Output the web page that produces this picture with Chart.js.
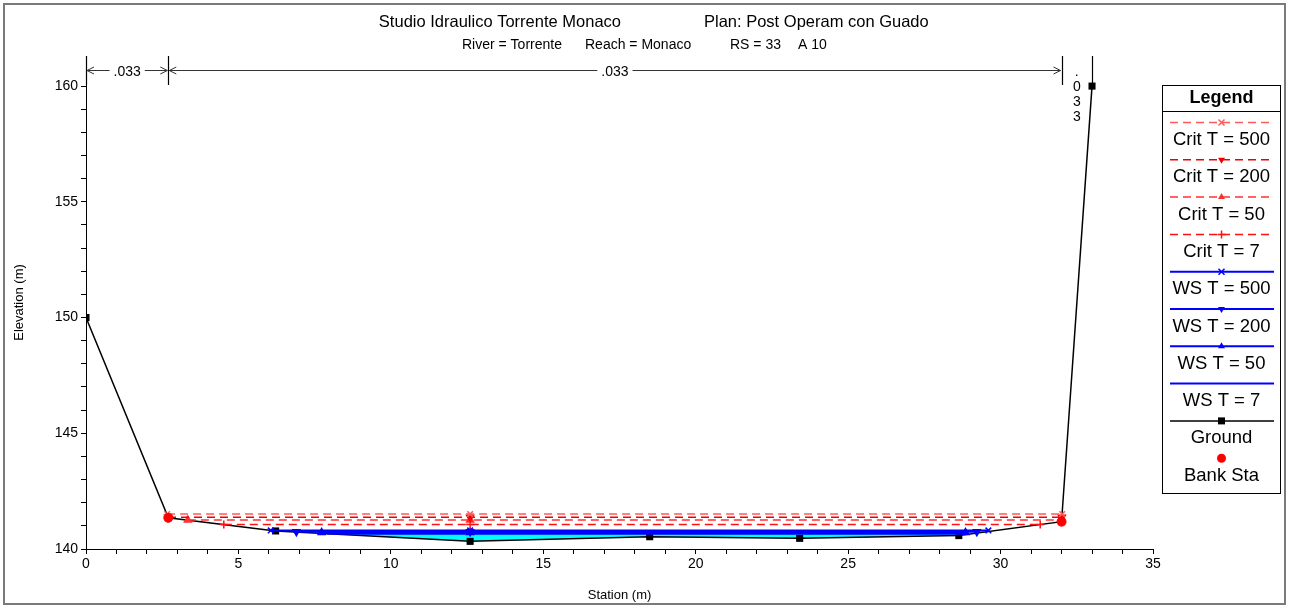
<!DOCTYPE html>
<html><head><meta charset="utf-8">
<script src="https://cdn.jsdelivr.net/npm/chart.js@4/dist/chart.umd.min.js"></script>
<style>html,body{margin:0;padding:0;background:#fff}#wrap{width:1289px;height:608px;position:relative}</style>
</head><body><div id="wrap"><canvas id="c" width="1289" height="608"></canvas></div>
<script>
// ---- text ----
const titleMain = 'Studio Idraulico Torrente Monaco';
const titlePlan = 'Plan: Post Operam con Guado';
const subtitleParts = ['River = Torrente', 'Reach = Monaco', 'RS = 33', 'A 10'];
const xAxisTitle = 'Station (m)';
const yAxisTitle = 'Elevation (m)';
const xTickLabels = [0, 5, 10, 15, 20, 25, 30, 35];
const yTickLabels = [140, 145, 150, 155, 160];

// ---- ground / banks ----
const groundStation = [0, 2.7, 6.22, 12.6, 18.49, 23.41, 28.63, 32.0, 33.0];
const groundElev    = [150, 141.35, 140.78, 140.33, 140.53, 140.46, 140.58, 141.18, 160];
const bankStation = [2.7, 32.0];
const bankElev    = [141.35, 141.18];

// ---- critical depth lines ----
const critNames = ['Crit  T = 500', 'Crit  T = 200', 'Crit  T = 50', 'Crit  T = 7'];
const critElev  = [141.51, 141.37, 141.25, 141.06];
const critLeft  = [2.66, 2.69, 3.34, 4.52];
const critRight = [32.02, 32.01, 32.0, 31.3];

// ---- water surface lines ----
const wsNames = ['WS  T = 500', 'WS  T = 200', 'WS  T = 50', 'WS  T = 7'];
const wsElev  = [140.80, 140.75, 140.71, 140.66];
const wsLeft  = [6.06, 6.9, 7.73, 7.9];
const wsRight = [29.6, 29.22, 28.85, 28.7];
const midStation = 12.6;

// ---- Manning n values ----
const nBreaks = [0, 2.7, 32.0, 33.0];
const nValues = ['.033', '.033', '.033'];

const FONT = "'Liberation Sans', Arial, Helvetica, sans-serif";
const critColors = ['#ff5a5a', '#ee0000', '#ff3030', '#ff1010'];
const markerStyles = [
  {style: 'crossRot', rot: 0}, {style: 'triangle', rot: 180},
  {style: 'triangle', rot: 0}, {style: 'cross', rot: 0}
];

function lineData(elev, left, right) {
  return [{x: left, y: elev}, {x: midStation, y: elev}, {x: right, y: elev}];
}

const datasets = [];
datasets.push({
  label: 'Bank Sta', legendKind: 'dot',
  data: bankStation.map((s, i) => ({x: s, y: bankElev[i]})),
  showLine: false, pointStyle: 'circle', pointRadius: 4.5,
  pointBackgroundColor: '#ff0000', pointBorderColor: '#ff0000', borderColor: '#ff0000'
});
critNames.forEach((n, i) => {
  datasets.push({
    label: n, legendKind: 'line', markerStyle: markerStyles[i].style,
    markerRot: markerStyles[i].rot,
    data: lineData(critElev[i], critLeft[i], critRight[i]),
    showLine: true, borderColor: critColors[i], borderWidth: 1.5, borderDash: [8, 5],
    pointStyle: markerStyles[i].style, pointRotation: markerStyles[i].rot,
    pointRadius: 4, pointBorderColor: critColors[i], pointBackgroundColor: critColors[i], pointBorderWidth: 1.5
  });
});
wsNames.forEach((n, i) => {
  const hasMarker = i < 3;
  datasets.push({
    label: n, legendKind: 'line', markerStyle: hasMarker ? markerStyles[i].style : null,
    markerRot: markerStyles[i].rot,
    data: lineData(wsElev[i], wsLeft[i], wsRight[i]),
    showLine: true, borderColor: '#0000ff', borderWidth: 2,
    pointStyle: markerStyles[i].style, pointRotation: markerStyles[i].rot,
    pointRadius: hasMarker ? 4 : 0, pointBorderColor: '#0000ff', pointBackgroundColor: '#0000ff', pointBorderWidth: 1.5
  });
});
datasets.push({
  label: 'Ground', legendKind: 'line', markerStyle: 'rect',
  data: groundStation.map((s, i) => ({x: s, y: groundElev[i]})),
  showLine: true, borderColor: '#000000', borderWidth: 1.5,
  pointStyle: 'rect', pointRadius: 5, pointBackgroundColor: '#000', pointBorderColor: '#000', pointBorderWidth: 0
});
// water area (lowest profile) polygon, from WS T=7 and ground
const wi = 3;
const waterPoly = [{x: wsLeft[wi], y: wsElev[wi]}, {x: wsRight[wi], y: wsElev[wi]}];
for (let k = groundStation.length - 1; k >= 0; k--) {
  if (groundStation[k] > wsLeft[wi] && groundStation[k] < wsRight[wi]) waterPoly.push({x: groundStation[k], y: groundElev[k]});
}
datasets.push({
  label: 'water', legendKind: 'none', data: waterPoly, showLine: true,
  borderColor: 'rgba(0,255,255,0)', borderWidth: 0, backgroundColor: '#00ffff',
  fill: 'shape', pointRadius: 0
});

function drawMarker(ctx, style, rot, x, y, r, color) {
  ctx.save();
  ctx.translate(x, y);
  ctx.rotate((rot || 0) * Math.PI / 180);
  ctx.fillStyle = color; ctx.strokeStyle = color; ctx.lineWidth = 1.5;
  ctx.beginPath();
  if (style === 'rect') { ctx.fillRect(-3.5, -3.5, 7, 7); }
  else if (style === 'circle') { ctx.arc(0, 0, r, 0, Math.PI * 2); ctx.fill(); }
  else if (style === 'crossRot') { const d = r * 0.75; ctx.moveTo(-d, -d); ctx.lineTo(d, d); ctx.moveTo(d, -d); ctx.lineTo(-d, d); ctx.stroke(); }
  else if (style === 'cross') { ctx.moveTo(0, -r); ctx.lineTo(0, r); ctx.moveTo(-r, 0); ctx.lineTo(r, 0); ctx.stroke(); }
  else if (style === 'triangle') {
    ctx.moveTo(0, -r); ctx.lineTo(r * 0.866, r * 0.5); ctx.lineTo(-r * 0.866, r * 0.5); ctx.closePath(); ctx.fill();
  }
  ctx.restore();
}

const decor = {
  id: 'decor',
  beforeDraw(chart) {
    const ctx = chart.ctx;
    ctx.save();
    ctx.fillStyle = '#fff'; ctx.fillRect(0, 0, chart.width, chart.height);
    ctx.strokeStyle = '#7a7a7a'; ctx.lineWidth = 2;
    ctx.strokeRect(4, 4, chart.width - 8, chart.height - 8);
    ctx.fillStyle = '#000'; ctx.textBaseline = 'middle';
    ctx.font = '16.5px ' + FONT;
    ctx.textAlign = 'right'; ctx.fillText(titleMain, 621, 22);
    ctx.textAlign = 'left'; ctx.fillText(titlePlan, 704, 22);
    ctx.font = '14px ' + FONT;
    const subX = [462, 585, 730, 798];
    subtitleParts.forEach((t, i) => ctx.fillText(t, subX[i], 45));
    ctx.restore();
  },
  afterDraw(chart) {
    const ctx = chart.ctx;
    const xs = chart.scales.x, area = chart.chartArea;
    ctx.save();
    const yLine = 70;
    ctx.font = '14px ' + FONT; ctx.textBaseline = 'middle'; ctx.textAlign = 'center';
    ctx.strokeStyle = '#000'; ctx.lineWidth = 1.2;
    nBreaks.forEach(b => {
      const px = Math.round(xs.getPixelForValue(b)) + 0.5;
      ctx.beginPath(); ctx.moveTo(px, area.top); ctx.lineTo(px, 85); ctx.stroke();
    });
    for (let i = 0; i < nValues.length; i++) {
      const x0 = xs.getPixelForValue(nBreaks[i]), x1 = xs.getPixelForValue(nBreaks[i + 1]);
      const mid = (x0 + x1) / 2;
      const w = ctx.measureText(nValues[i]).width;
      ctx.fillStyle = '#000';
      if (x1 - x0 > w + 30) {
        ctx.fillText(nValues[i], mid, yLine + 2);
        ctx.strokeStyle = '#333'; ctx.lineWidth = 1;
        ctx.beginPath();
        ctx.moveTo(x0 + 1, yLine + 0.5); ctx.lineTo(mid - w / 2 - 4, yLine + 0.5);
        ctx.moveTo(mid + w / 2 + 4, yLine + 0.5); ctx.lineTo(x1 - 1, yLine + 0.5);
        ctx.moveTo(x0 + 8, yLine - 3); ctx.lineTo(x0 + 1, yLine + 0.5); ctx.lineTo(x0 + 8, yLine + 4);
        ctx.moveTo(x1 - 8, yLine - 3); ctx.lineTo(x1 - 1, yLine + 0.5); ctx.lineTo(x1 - 8, yLine + 4);
        ctx.stroke();
      } else {
        const chars = nValues[i].split('');
        chars.forEach((c, k) => ctx.fillText(c, mid, 72 + k * 15));
      }
    }
    // legend
    const L = 1162, R = 1281, T = 85, B = 494, cx = (L + R) / 2;
    ctx.fillStyle = '#fff'; ctx.fillRect(L, T, R - L, B - T);
    ctx.strokeStyle = '#000'; ctx.lineWidth = 1;
    ctx.strokeRect(L + 0.5, T + 0.5, R - L - 1, B - T - 1);
    ctx.beginPath(); ctx.moveTo(L, 111.5); ctx.lineTo(R, 111.5); ctx.stroke();
    ctx.fillStyle = '#000'; ctx.textAlign = 'center'; ctx.textBaseline = 'middle';
    ctx.font = 'bold 18px ' + FONT; ctx.fillText('Legend', cx, 98);
    ctx.font = '18.5px ' + FONT;
    const entries = chart.data.datasets.filter(d => d.legendKind !== 'none');
    const order = entries.filter(d => d.legendKind === 'line').concat(entries.filter(d => d.legendKind === 'dot'));
    order.forEach((d, i) => {
      const ly = 122.5 + i * 37.3;
      if (d.legendKind === 'line') {
        ctx.save();
        ctx.strokeStyle = d.borderColor; ctx.lineWidth = d.borderWidth;
        ctx.setLineDash(d.borderDash || []);
        ctx.beginPath(); ctx.moveTo(1170, ly); ctx.lineTo(1274, ly); ctx.stroke();
        ctx.restore();
        if (d.markerStyle) drawMarker(ctx, d.markerStyle, d.markerRot, cx, ly, 4, d.pointBorderColor);
      } else {
        drawMarker(ctx, 'circle', 0, cx, ly, 4.5, d.pointBackgroundColor);
      }
      ctx.fillStyle = '#000';
      ctx.fillText(d.label.replace(/  /g, ' '), cx, ly + 17.5);
    });
    ctx.restore();
  }
};

const tickFont = {family: FONT, size: 14};
new Chart(document.getElementById('c'), {
  type: 'scatter',
  data: {datasets},
  options: {
    responsive: false, animation: false, events: [],
    layout: {padding: {left: 4, right: 136, top: 56, bottom: 4}},
    plugins: {legend: {display: false}, tooltip: {enabled: false}, title: {display: false}},
    elements: {line: {tension: 0}},
    scales: {
      x: {
        type: 'linear', min: 0, max: 35,
        afterFit: s => { s.height = 55; },
        border: {display: true, color: '#000', width: 1},
        grid: {display: true, drawOnChartArea: false, drawTicks: true, tickLength: 5, color: '#000'},
        ticks: {stepSize: 1, autoSkip: false, maxRotation: 0, color: '#000', font: tickFont, padding: 2,
          callback: v => xTickLabels.includes(v) ? String(v) : ''},
        title: {display: true, text: xAxisTitle, color: '#000', font: {family: FONT, size: 13}, padding: {top: 0, bottom: 1}}
      },
      y: {
        type: 'linear', min: 140, max: 161.3,
        afterFit: s => { s.width = 82; },
        afterBuildTicks: s => { s.ticks = s.ticks.filter(t => t.value <= 160); },
        border: {display: true, color: '#000', width: 1},
        grid: {display: true, drawOnChartArea: false, drawTicks: true, tickLength: 5, color: '#000'},
        ticks: {stepSize: 1, includeBounds: false, autoSkip: false, color: '#000', font: tickFont, padding: 3,
          callback: v => yTickLabels.includes(v) ? String(v) : ''},
        title: {display: true, text: yAxisTitle, color: '#000', font: {family: FONT, size: 13}, padding: {top: 8, bottom: 0}}
      }
    }
  },
  plugins: [decor]
});
</script>
</body></html>
